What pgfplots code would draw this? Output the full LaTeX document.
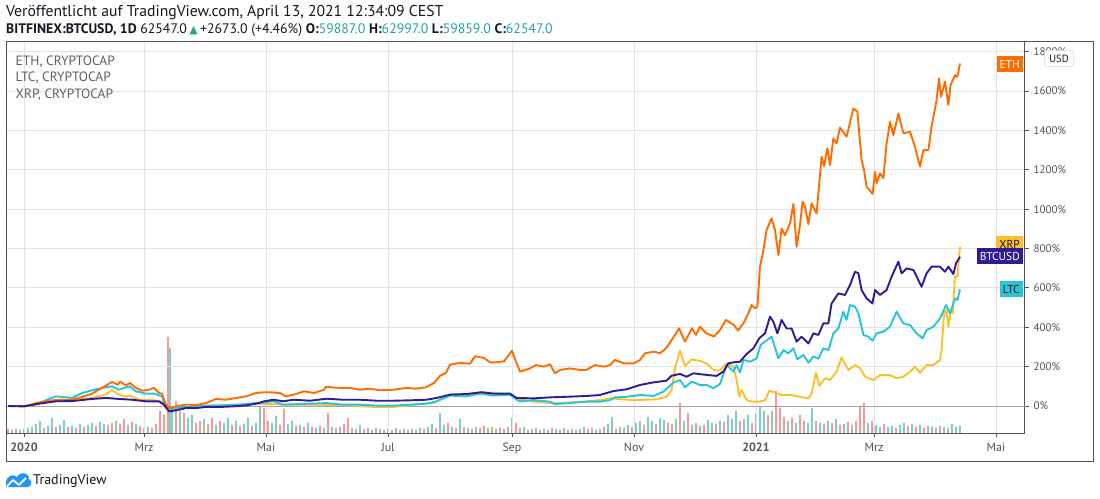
\documentclass[border=0pt]{standalone}
\usepackage{pgfplots}
\pgfplotsset{compat=1.18}
\usepackage{fontspec}
\setmainfont{PT Sans}
\newfontfamily\symfont{DejaVu Sans}
\definecolor{eth}{HTML}{FF6D00}
\definecolor{btc}{HTML}{311B92}
\definecolor{ltc}{HTML}{26C6DA}
\definecolor{xrp}{HTML}{FBC02D}
\definecolor{tvtext}{HTML}{131722}
\definecolor{tvteal}{HTML}{26A69A}
\definecolor{tvgray}{HTML}{50535E}
\definecolor{legg}{HTML}{5D606B}
\definecolor{gridc}{HTML}{E3E3E3}
\definecolor{framec}{HTML}{50535E}
\definecolor{volg}{HTML}{7FCDC5}
\definecolor{volr}{HTML}{F39A98}
\definecolor{tvblue}{HTML}{2196F3}

\begin{document}
\begin{tikzpicture}[x=1pt,y=1pt]
\path[use as bounding box, fill=white] (0,0) rectangle (1100,498);

% volume bars (hidden axis, heights in pixels)
\begin{axis}[at={(6pt,65pt)}, anchor=south west, width=1019pt, height=391pt,
  scale only axis, hide axis, xmin=-9, xmax=500.5, ymin=0, ymax=391]
\addplot[ybar, bar shift=0pt, bar width=1.6pt, fill=volg, draw=none] coordinates {
(-6,3)(-2,3)(2,5)(4,6)(6,9)(8,12)(12,7)(14,15)(18,8)(20,13)(24,7)(28,9)(32,8)(34,10)(38,11)(40,9)(46,12)(52,8)(56,9)(62,6)(73,85)(74,25)(78,22)(82,15)(84,18)(90,14)(96,8)(100,10)(102,15)(106,12)(110,9)(112,15)(116,10)(118,26)
(124,10)(126,17)(132,9)(134,12)(138,8)(142,10)(146,5)(150,5)(154,6)(158,6)(164,5)(168,8)(174,3)(178,4)(182,4)(184,3)(188,3)(192,3)(196,3)(198,5)(202,6)(204,9)(208,20)(210,8)(214,6)(218,14)(222,5)(226,6)(232,5)(236,4)(240,4)(244,15)
(250,6)(254,4)(258,3)(262,3)(266,4)(268,3)(272,3)(276,3)(278,4)(282,4)(286,3)(288,4)(292,9)(294,16)(298,6)(302,8)(306,10)(308,12)(312,16)(314,12)(318,15)(320,13)(326,14)(330,12)(334,8)(338,7)(342,13)(344,10)(348,12)(352,18)(354,14)(356,22)(360,14)(362,18)
(366,20)(368,26)(370,22)(374,22)(382,12)(386,10)(392,10)(394,25)(398,10)(402,12)(406,14)(410,9)(414,8)(422,10)(426,8)(428,6)(432,6)(434,7)(438,8)(440,10)(444,9)(448,8)(452,7)(456,5)(460,6)(464,9)(466,6)(468,7)};
\addplot[ybar, bar shift=0pt, bar width=1.6pt, fill=volr, draw=none] coordinates {
(-8,4)(-4,4)(0,4)(10,5)(16,6)(22,6)(26,5)(30,6)(36,7)(42,8)(44,10)(48,9)(50,14)(54,11)(58,7)(60,5)(64,5)(66,9)(68,22)(70,18)(72,96)(76,32)(80,20)(86,10)(88,12)(92,9)(94,15)(98,12)(104,8)(108,7)(114,7)(120,25)
(122,12)(128,8)(130,24)(136,7)(140,6)(144,6)(148,7)(152,20)(156,5)(160,9)(162,15)(166,4)(170,4)(172,5)(176,5)(180,3)(186,5)(190,4)(194,4)(200,4)(206,5)(212,10)(216,5)(220,6)(224,4)(228,5)(230,7)(234,6)(238,5)(242,6)
(246,10)(248,5)(252,3)(256,5)(260,4)(264,5)(270,5)(274,4)(280,6)(284,5)(290,6)(296,4)(300,5)(304,6)(310,8)(316,9)(322,10)(324,9)(328,30)(332,20)(336,10)(340,8)(346,9)(350,11)(358,12)(364,10)
(372,18)(376,42)(378,25)(380,16)(384,15)(388,18)(390,12)(396,12)(400,9)(404,10)(408,8)(412,11)(416,12)(418,27)(420,30)(424,12)(430,9)(436,5)(442,7)(446,6)(450,5)(454,6)(458,7)(462,5)};
\end{axis}

% main axis with grid, ticks and the four series
\begin{axis}[at={(6pt,65pt)}, anchor=south west, width=1019pt, height=391pt,
  scale only axis, xmin=-9, xmax=500.5, ymin=-137, ymax=1849,
  axis line style={draw=framec, line width=1pt},
  grid=major, major grid style={draw=gridc, line width=0.8pt},
  tick align=outside, major tick length=4pt,
  tick style={draw=tvgray, line width=0.8pt},
  xtick pos=lower, ytick pos=right,
  xtick={0,60,121,182,244,305,366,425,486},
  xticklabels={\textbf{2020},Mrz,Mai,Jul,Sep,Nov,\textbf{2021},Mrz,Mai},
  xticklabel style={font=\fontsize{12}{13}\selectfont, text=tvgray, yshift=-2.5pt},
  ytick={200,400,...,1800},
  yticklabel={\pgfmathprintnumber{\tick}\%},
  yticklabel style={font=\fontsize{11}{13}\selectfont, text=tvgray, anchor=west, xshift=1pt},
  extra y ticks={0}, extra y tick labels={0\%},
  extra y tick style={major grid style={draw=black!35, line width=0.9pt}},
  /pgf/number format/1000 sep={}, /pgf/number format/assume math mode=true,
  every axis plot/.append style={line width=1.9pt, line join=round, mark=none}]

\addplot[xrp] coordinates {(-8,0)(2.5,0)(12.5,24)(24,29)(34,41)(40.8,58)(44,80)(47.5,58)(50,49)(53,53)(57.5,32)(64,32)(69,19)(70.8,-10)(74,-19)(80.8,-10)(90.8,2)(107.5,7)(118,12)(129.7,7)(143,7)(159.7,5)(176.3,-5)(184.7,-5)(193,5)(204.7,15)(213,58)(221.3,58)(228,70)(243,58)(248,32)(254.7,22)(265.5,14)(279.7,22)(288,30)(293,39)(304.7,30)(316.3,34)(321.3,47)(323.8,81)(325.5,192)(328,281)(330.5,203)(333.8,237)(338,229)(341.3,217)(344.7,183)(348,180)(351.3,217)(354.7,200)(356.3,132)(357.7,47)(358.8,81)(361.3,30)(364.7,22)(367.7,22)(370.5,30)(372.7,78)(375.5,68)(378.8,56)(383,56)(388,47)(392.2,39)(393.8,64)(396,169)(397.7,102)(400.5,141)(403,132)(406.3,174)(408.8,247)(412.2,183)(415.5,208)(418,192)(420.5,149)(424.7,132)(428,157)(433,157)(436.3,141)(439.7,149)(443,174)(445.5,200)(448,169)(451.3,208)(454.7,208)(458,234)(458.8,284)(460,471)(461.3,488)(462.2,403)(463.3,479)(464.3,471)(465.5,657)(466.7,657)(468,809)};

\addplot[ltc] coordinates {(-8,0)(1,0)(7.5,15)(12.5,36)(16,49)(21,44)(24,41)(29,66)(34,80)(39,92)(44,100)(47.5,83)(50,92)(53,100)(55.8,75)(61,63)(65,63)(69,49)(70.8,-5)(74,-15)(79,-5)(84,-5)(90.8,2)(97.5,2)(107.5,7)(120,19)(124.7,24)(129.7,7)(143,12)(151.3,15)(159.7,7)(168,7)(176.3,2)(184.7,2)(193,7)(201.3,12)(206.3,24)(213,53)(221.3,49)(228,63)(234.7,53)(243,58)(246.3,32)(248,24)(254.7,30)(263,22)(265.5,10)(271.3,14)(281.3,22)(288,22)(293,30)(295.5,44)(301.3,47)(308,56)(314.7,51)(319.7,73)(324.7,119)(328,132)(330.5,95)(333.8,124)(338,107)(341.3,107)(344.7,90)(348,112)(351.3,208)(354.7,175)(356.3,208)(358,170)(359.7,234)(363,225)(366.3,242)(368.3,310)(370.5,327)(373.8,352)(377.2,242)(379.7,284)(382.2,267)(384.7,293)(386.7,237)(389.7,259)(392.2,220)(394.7,251)(397.2,240)(399.7,293)(402.2,284)(404.7,369)(407.2,394)(409.7,479)(411.3,437)(413,513)(415.5,505)(417.2,471)(419.7,361)(422.2,352)(424.3,332)(426.3,369)(429.7,378)(433,403)(436.3,479)(439.7,420)(443,411)(446.3,369)(449.3,344)(451.3,386)(454.7,403)(458,445)(461,513)(463,471)(465.5,547)(466.7,538)(468,593)};

\addplot[eth] coordinates {(-8,0)(0,0)(3,5)(6,15)(12.5,27)(17.5,32)(24,32)(29,46)(34,63)(39,92)(44,122)(47,108)(48,124)(51,105)(53,117)(56,92)(59,78)(62.5,83)(65,92)(67.5,66)(69,63)(71,7)(72.5,-10)(76,-2)(81,7)(86,5)(91,15)(96,36)(101,32)(106,41)(111,49)(116,66)(120,70)(123,70)(128,66)(131,49)(135,58)(140,75)(145,66)(150,83)(151,97)(158,92)(163,92)(168,83)(173,88)(178,80)(185,83)(191,92)(196,88)(201,95)(205,117)(208,154)(211,168)(213,210)(218,219)(223,215)(225.5,253)(230,244)(233,222)(236,222)(240,227)(244,281)(246,225)(248,175)(250.5,183)(253,191)(256,208)(260,200)(263,212)(265.5,166)(268,183)(273,191)(278,183)(281,183)(285.5,208)(290,200)(293,208)(295.5,234)(300,217)(305,217)(308,234)(310.5,268)(315,276)(318,268)(321,293)(325,353)(327.5,395)(330.5,327)(334,395)(336,361)(338,403)(341,370)(345,353)(348,386)(351,437)(355,412)(357,383)(359.7,420)(362.2,471)(363.8,513)(365.5,496)(366.7,505)(368,708)(369.7,792)(371.3,894)(373.8,953)(375.5,894)(377.2,767)(378.8,902)(380.5,868)(383,928)(384.7,1026)(386.3,809)(388,919)(389.3,1038)(390.5,1012)(392.2,924)(393.8,1029)(396.3,978)(398.8,1266)(400,1219)(401.7,1309)(403,1224)(404.7,1359)(406.3,1334)(408,1415)(411.3,1368)(414.7,1512)(416.7,1495)(418.8,1249)(420,1199)(421.3,1114)(424.3,1077)(425.5,1190)(426.3,1131)(428,1182)(429.7,1157)(431.3,1334)(433,1444)(434.7,1376)(437.2,1486)(439.7,1385)(443,1393)(445.5,1317)(448,1216)(449.7,1300)(452.2,1300)(453.8,1419)(456.3,1554)(457.5,1664)(458.5,1571)(460.5,1647)(462.2,1529)(463.3,1630)(465.5,1681)(466.7,1672)(468,1740)};

\addplot[btc] coordinates {(-8,0)(0,-2)(7.5,12)(16,24)(24,25)(34,36)(41,41)(47.5,36)(54,32)(61,24)(67.5,24)(70,7)(72.5,-27)(76,-22)(81,-10)(86,-10)(91,-5)(97.5,-5)(104,-2)(111,3)(117.5,15)(120,24)(124.7,32)(129.7,24)(134.7,32)(143,27)(151.3,37)(159.7,32)(168,32)(176.3,27)(184.7,27)(193,29)(201.3,32)(206.3,41)(213,58)(221.3,61)(228.8,70)(234.7,63)(243,63)(246.3,41)(254.7,39)(263,44)(271.3,47)(281.3,51)(288,56)(294.7,76)(301.3,85)(308,107)(314.7,120)(321.3,129)(323.8,154)(328,163)(331.3,149)(334.7,166)(341.3,158)(346.3,153)(349.7,175)(352.2,217)(354.7,222)(358,225)(361.3,264)(364.7,293)(367.7,345)(370.5,369)(373,454)(374.7,428)(376.7,369)(378.8,437)(381.3,394)(383.8,394)(386.3,327)(388.8,352)(392.2,318)(394.7,369)(397.2,361)(399.7,420)(402.2,420)(403.8,521)(407.2,572)(410.5,564)(413,615)(415.5,682)(417.2,674)(418.8,589)(421.3,547)(424.2,521)(425.5,589)(428,564)(431.3,589)(433.8,657)(437.2,733)(438.8,674)(441.3,699)(444.7,691)(448.8,606)(451.3,674)(453.8,708)(458,708)(460.5,682)(462.2,708)(464.7,670)(466,725)(468,758)};

% price labels on the right edge
\begin{scope}[every node/.style={font=\fontsize{11.5}{12}\selectfont, inner xsep=3pt, inner ysep=2.5pt, minimum height=16.5pt, anchor=east}]
\node[fill=eth, text=white] at (axis cs:500.5,1737) [xshift=-2pt] {ETH};
\node[fill=xrp, text=tvtext] at (axis cs:500.5,823) [xshift=-2pt] {XRP};
\node[fill=btc, text=white] at (axis cs:500.5,762) [xshift=-2pt] {BTCUSD};
\node[fill=ltc, text=tvtext] at (axis cs:500.5,594) [xshift=-2pt] {LTC};
\end{scope}
\end{axis}

% outer frame
\draw[framec, line width=1pt] (6,37) rectangle (1093,456);

% USD box
\node[draw=black!25, fill=white, rounded corners=2.5pt, minimum width=29pt, minimum height=16pt, inner sep=1pt,
  font=\fontsize{10.5}{11}\selectfont, text=tvtext] at (1059,439.5) {USD};

% header
\node[anchor=base west, inner sep=0, text=tvtext] at (6,481.5)
  {\fontsize{15.7}{16}\selectfont Veröffentlicht auf TradingView.com, April 13, 2021 12:34:09 CEST};
\node[anchor=base west, inner sep=0, text=tvtext] at (6,464.5)
  {\fontsize{13.8}{16}\selectfont \textbf{BITFINEX:BTCUSD, 1D} 62547.0\,{\symfont\fontsize{11}{12}\selectfont\color{tvteal}▲}\,+2673.0 (+4.46\%) \textbf{O:}\textcolor{tvteal}{59887.0} \textbf{H:}\textcolor{tvteal}{62997.0} \textbf{L:}\textcolor{tvteal}{59859.0} \textbf{C:}\textcolor{tvteal}{62547.0}};

% legend texts
\begin{scope}[every node/.style={anchor=base west, inner sep=0, text=legg, font=\fontsize{13.5}{14}\selectfont}]
\node at (15.5,432.5) {ETH, CRYPTOCAP};
\node at (15.5,416) {LTC, CRYPTOCAP};
\node at (15.5,399.5) {XRP, CRYPTOCAP};
\end{scope}

% footer logo
\fill[tvblue] (6,11) -- (6,15) .. controls (6,22) and (13,25) .. (17,21) .. controls (20,27) and (29,26) .. (29,19) .. controls (32,18) and (32,11) .. (28,11) -- cycle;
\draw[white, line width=1.8pt, line join=round] (7,11.5) -- (13,18) -- (19,13) -- (26,20);
\node[anchor=base west, inner sep=0, text=tvtext, font=\fontsize{14}{15}\selectfont] at (33,14) {TradingView};
\end{tikzpicture}
\end{document}
